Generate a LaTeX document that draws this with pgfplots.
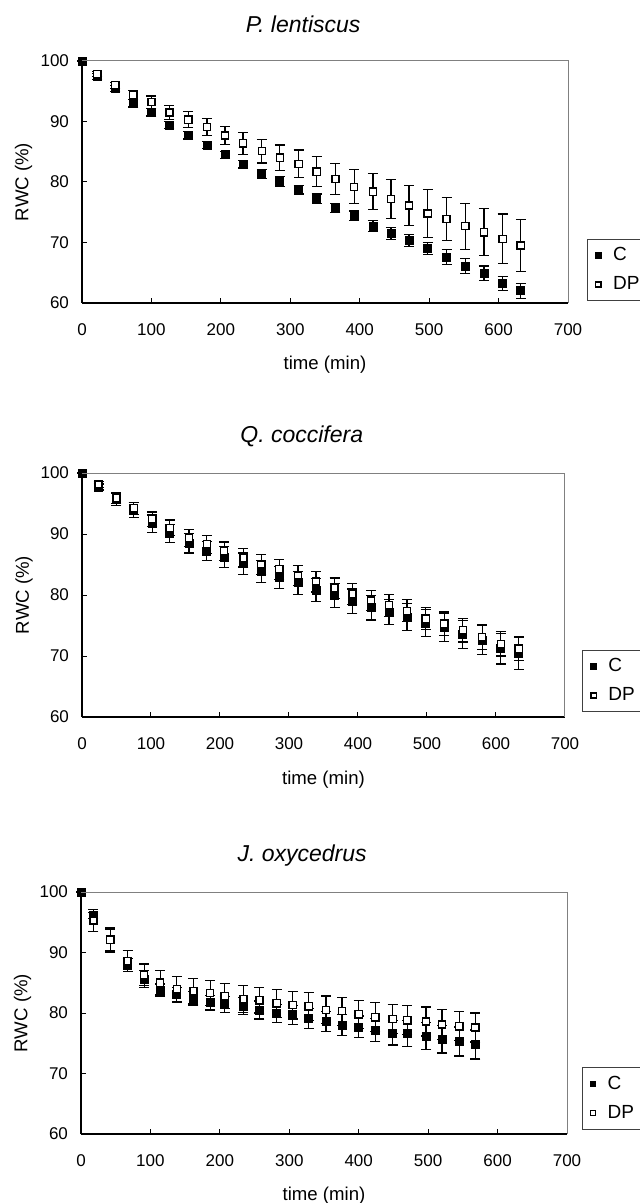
\documentclass[border=0pt]{standalone}
\usepackage{fontspec}
\setmainfont{Liberation Sans}
\usepackage{pgfplots}
\usepackage{pgfplotstable}
\pgfplotsset{compat=1.18}

% t = time (min), C / DP = RWC (%), eC / eDP = error
\pgfplotstableread{
t   C     eC   DP    eDP
0   100   0    nan   0
22  97.4  0.5  97.8  0.4
48  95.4  0.5  96.0  0.5
74  93.0  0.6  94.4  0.7
100 91.5  0.6  93.2  1.0
126 89.4  0.6  91.5  1.2
153 87.7  0.6  90.3  1.3
180 86.1  0.6  89.1  1.45
206 84.5  0.6  87.7  1.5
232 82.9  0.6  86.4  1.8
259 81.3  0.7  85.1  1.95
285 80.1  0.8  84.0  2.1
312 78.7  0.7  83.0  2.3
338 77.2  0.8  81.7  2.5
365 75.7  0.8  80.5  2.6
392 74.4  0.8  79.2  2.8
419 72.7  0.9  78.4  3.0
445 71.5  1.0  77.2  3.2
471 70.3  1.0  76.1  3.3
498 69.0  1.0  74.8  4.0
525 67.6  1.2  73.9  3.6
552 66.1  1.2  72.7  3.8
579 64.9  1.2  71.7  3.9
606 63.2  1.2  70.6  4.1
632 62.0  1.2  69.5  4.3
}\lentiscus

\pgfplotstableread{
t   C     eC   DP    eDP
0   100   0    nan   0
24  97.7  0.5  98.1  0.5
50  95.7  1.0  95.9  0.9
75  93.9  1.2  94.2  1.0
102 91.7  1.4  92.4  1.2
127 90.1  1.5  91.0  1.3
155 88.5  1.6  89.4  1.4
181 87.2  1.6  88.3  1.5
206 86.2  1.7  87.2  1.5
234 85.1  1.8  86.1  1.5
260 83.8  1.8  85.0  1.6
286 82.9  1.8  84.2  1.6
313 82.0  1.9  83.2  1.6
339 80.8  1.9  82.2  1.7
366 79.9  2.0  81.1  1.7
392 79.0  2.0  80.2  1.7
419 77.9  2.0  79.1  1.7
445 77.2  2.1  78.3  1.8
471 76.4  2.2  77.4  1.8
498 75.4  2.2  76.1  1.8
525 74.7  2.3  75.3  1.9
552 73.5  2.3  74.2  1.9
580 72.6  2.4  73.1  2.0
607 71.2  2.5  72.0  2.0
633 70.4  2.6  71.2  2.0
}\coccifera

\pgfplotstableread{
t   C     eC   DP    eDP
0   100   0    nan   0
18  96.1  0.5  95.3  1.8
42  92.1  1.8  92.1  2.0
67  87.9  1.1  88.6  1.7
91  85.6  1.4  86.3  1.8
114 83.8  1.0  85.0  2.0
138 83.0  1.2  84.0  2.1
162 82.4  1.2  83.6  2.1
186 81.7  1.2  83.3  2.1
207 81.4  1.3  82.8  2.1
234 81.1  1.4  82.3  2.2
257 80.5  1.5  82.1  2.1
282 79.9  1.5  81.6  2.3
305 79.7  1.6  81.3  2.3
328 79.1  1.6  81.1  2.3
353 78.6  1.7  80.5  2.3
376 78.0  1.7  80.3  2.3
400 77.7  1.8  79.8  2.3
424 77.2  1.9  79.3  2.4
449 76.7  2.0  79.0  2.4
470 76.6  2.1  78.8  2.4
497 76.2  2.2  78.6  2.4
520 75.7  2.3  78.1  2.5
545 75.3  2.4  77.8  2.4
568 74.8  2.4  77.6  2.4
}\oxycedrus

\pgfplotsset{
  rwc/.style={
    scale only axis,
    xmin=0, xmax=700, ymin=60, ymax=100,
    xtick={0,100,...,700}, ytick={60,70,...,100},
    axis x line*=bottom, axis y line*=left,
    axis line style={black, line width=0.7pt},
    tick style={black, line width=0.5pt},
    major tick length=2.5pt, tick align=inside,
    /pgf/number format/assume math mode=true,
    tick label style={font=\fontsize{8.5}{10}\selectfont},
    yticklabel style={xshift=-3pt},
    xticklabel style={yshift=-7pt},
    xlabel={time (min)}, ylabel={RWC (\%)},
    label style={font=\fontsize{9.3}{11}\selectfont},
    xlabel style={at={(axis description cs:0.5,-0.255)}, anchor=center},
    ylabel style={at={(axis description cs:-0.12,0.5)}, anchor=center},
    title style={at={(axis description cs:0.455,1.15)}, anchor=center,
      yshift=-6pt, font=\fontsize{11.5}{13}\selectfont\itshape},
    clip=false,
    legend style={anchor=south west, draw=black!75, line width=0.5pt,
      font=\fontsize{9.5}{11}\selectfont, inner xsep=4pt, inner ysep=2pt,
      row sep=2.5pt, legend cell align=left,
      /tikz/every odd column/.append style={column sep=4pt}},
    legend image code/.code={\draw[#1] plot coordinates {(0.08cm,0cm)};},
    after end axis/.code={
      \draw[black!50, line width=0.5pt]
        (rel axis cs:0,1) -- (rel axis cs:1,1) -- (rel axis cs:1,0);
    },
  },
  cser/.style={only marks, mark=square*, mark size=2.0pt, black,
    legend image post style={mark size=1.4pt},
    error bars/.cd, y dir=both, y explicit,
    error bar style={black, line width=0.6pt},
    error mark options={black, rotate=90, mark size=2.5pt, line width=0.6pt}},
  dser/.style={only marks, mark=square*, mark size=1.8pt,
    mark options={fill=white, draw=black, line width=0.7pt},
    legend image post style={mark size=1.3pt},
    error bars/.cd, y dir=both, y explicit,
    error bar style={black, line width=0.6pt},
    error mark options={black, rotate=90, mark size=2.5pt, line width=0.6pt}},
}

\begin{document}
\begin{tikzpicture}
\path[use as bounding box] (0,0) rectangle (319.5pt,-601.5pt);

\begin{axis}[rwc, at={(41pt,-30.5pt)}, anchor=north west,
    width=243pt, height=121pt, title={P. lentiscus},
    legend style={at={(1.039,0.008)}}]
\addplot[cser] table[x=t, y=C, y error=eC] {\lentiscus};
\addplot[dser] table[x=t, y=DP, y error=eDP] {\lentiscus};
\legend{C,DP}
\end{axis}

\begin{axis}[rwc, at={(41pt,-236.5pt)}, anchor=north west,
    width=241.5pt, height=122pt, title={Q. coccifera},
    legend style={at={(1.036,0.02)}}]
\addplot[cser] table[x=t, y=C, y error=eC] {\coccifera};
\addplot[dser] table[x=t, y=DP, y error=eDP] {\coccifera};
\legend{C,DP}
\end{axis}

\begin{axis}[rwc, at={(40.5pt,-446pt)}, anchor=north west,
    width=243pt, height=121pt, title={J. oxycedrus},
    legend style={at={(1.03,0.018)}}]
\addplot[cser] table[x=t, y=C, y error=eC] {\oxycedrus};
\addplot[dser] table[x=t, y=DP, y error=eDP] {\oxycedrus};
\legend{C,DP}
\end{axis}
\end{tikzpicture}
\end{document}
